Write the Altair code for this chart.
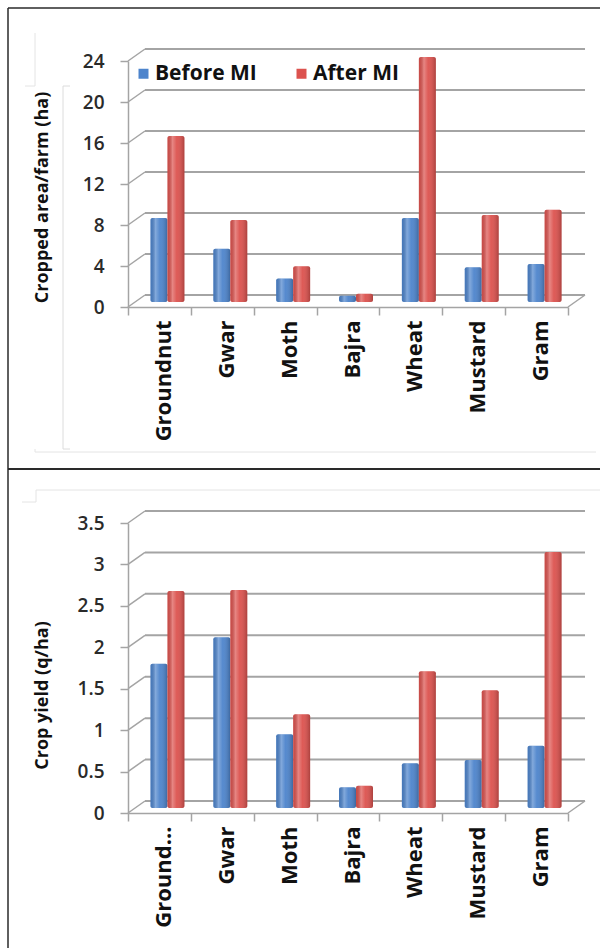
import altair as alt
import pandas as pd

# ---------------- data ----------------
crops = ["Groundnut", "Gwar", "Moth", "Bajra", "Wheat", "Mustard", "Gram"]
series = ["Before MI", "After MI"]
area_before = [8.2, 5.2, 2.3, 0.6, 8.2, 3.4, 3.7]
area_after = [16.2, 8.0, 3.5, 0.8, 23.9, 8.5, 9.0]
yield_before = [1.74, 2.06, 0.89, 0.25, 0.54, 0.58, 0.75]
yield_after = [2.62, 2.63, 1.13, 0.27, 1.65, 1.42, 3.09]
area_ticks = [0, 4, 8, 12, 16, 20, 24]
yield_ticks = [0, 0.5, 1, 1.5, 2, 2.5, 3, 3.5]
colors = ["#4d84cc", "#dc524e"]

# ---------------- style ----------------
W = 440
FONT = "Open Sans"
GRID = "#a4a4a4"
DX, DY = 17, -12   # depth offset of the back wall
BX, BY = 8, -5     # depth offset of the bars
BAR_W = 17

shade = alt.Gradient(
    gradient="linear", x1=0, x2=1, y1=0, y2=0,
    stops=[
        alt.GradientStop(offset=0, color="rgba(0,0,0,0.08)"),
        alt.GradientStop(offset=0.3, color="rgba(255,255,255,0.30)"),
        alt.GradientStop(offset=0.55, color="rgba(255,255,255,0.05)"),
        alt.GradientStop(offset=1, color="rgba(0,0,0,0.22)"),
    ],
)

dummy = pd.DataFrame({"k": [0]})


def line(x1, y1, x2, y2, color, width):
    return alt.Chart(dummy).mark_rule(color=color, strokeWidth=width).encode(
        x=alt.value(x1), x2=alt.value(x2), y=alt.value(y1), y2=alt.value(y2)
    )


def panel(before, after, ticks, ymax, H, title, title_y, xlabel_expr, frame):
    df = pd.DataFrame({
        "crop": crops * 2,
        "series": [series[0]] * len(crops) + [series[1]] * len(crops),
        "value": before + after,
    })
    tdf = pd.DataFrame({"value": ticks})
    zdf = pd.DataFrame({"value": [0]})

    yenc = alt.Y(
        "value:Q",
        scale=alt.Scale(domain=[0, ymax], nice=False, zero=True),
        stack=None,
        axis=alt.Axis(
            values=ticks, format=".1~f", grid=False,
            title=title, titleFont=FONT, titleFontSize=18, titleFontWeight="bold",
            titleColor="#111", titleX=-86, titleY=title_y, titleAngle=-90,
            titleBaseline="middle", titleAlign="center",
            labelFont=FONT, labelFontSize=19, labelFontWeight=600, labelColor="#2a2a2a",
            labelPadding=16,
            tickSize=8, tickColor=GRID, tickWidth=1.5, domainColor=GRID, domainWidth=1.5,
        ),
    )
    xenc = alt.X(
        "crop:N", sort=crops,
        scale=alt.Scale(paddingInner=0, paddingOuter=0),
        axis=alt.Axis(
            title=None, labelAngle=-90, labelFont=FONT, labelFontSize=22,
            labelFontWeight="bold", labelColor="#111", labelPadding=5, labelOffset=4,
            tickBand="extent", tickSize=8, tickColor=GRID, tickWidth=1.5,
            domainColor=GRID, domainWidth=1.5, labelExpr=xlabel_expr,
        ),
    )
    cenc = alt.Color(
        "series:N", scale=alt.Scale(domain=series, range=colors),
        legend=alt.Legend(
            orient="none", legendX=5, legendY=2, direction="horizontal", title=None,
            symbolType="square", symbolSize=100, symbolStrokeWidth=0,
            labelFont=FONT, labelFontSize=21, labelFontWeight="bold", labelColor="#111",
            columnPadding=34, labelOffset=1,
        ),
    )

    grid = alt.Chart(tdf).mark_rule(color=GRID, strokeWidth=2, yOffset=DY).encode(
        y=yenc, x=alt.value(DX), x2=alt.value(W + DX)
    )
    diag = alt.Chart(tdf).mark_rule(color=GRID, strokeWidth=1.5, y2Offset=DY).encode(
        y=yenc, y2=alt.Y2("value"), x=alt.value(0), x2=alt.value(DX)
    )
    floor = alt.Chart(zdf).mark_rule(color=GRID, strokeWidth=1.5, y2Offset=DY).encode(
        y=yenc, y2=alt.Y2("value"), x=alt.value(W), x2=alt.value(W + DX)
    )

    layers = [grid, diag, floor]
    offs = {series[0]: BX - BAR_W / 2, series[1]: BX + BAR_W / 2}
    for s in series:
        base = (
            alt.Chart(df)
            .transform_filter(alt.datum.series == s)
            .transform_calculate(zero="0")
        )
        layers.append(
            base.mark_bar(width=BAR_W, xOffset=offs[s], yOffset=BY, y2Offset=BY, cornerRadius=2)
            .encode(x=xenc, y=yenc, y2=alt.Y2("zero:Q"), color=cenc)
        )
        layers.append(
            base.mark_bar(width=BAR_W, xOffset=offs[s], yOffset=BY, y2Offset=BY, cornerRadius=2,
                          fill=shade)
            .encode(x=xenc, y=yenc, y2=alt.Y2("zero:Q"))
        )
    layers += frame
    return alt.layer(*layers).properties(width=W, height=H)


top_frame = [
    line(-93, 391, 468, 391, "#e4e4e4", 1),
    line(-93, -28, -93, 25, "#e4e4e4", 1),
    line(-103, 25, -93, 25, "#e4e4e4", 1),
    line(-65, 25, -65, 388, "#dcdcdc", 1),
    line(-65, 25, -58, 25, "#dcdcdc", 1),
    line(-65, 388, -58, 388, "#dcdcdc", 1),
    line(-93, 388, -93, 391, "#e4e4e4", 1),
    line(-120, -53, 472, -53, "#2a2a2a", 1.5),
    line(-120, -53, -120, 408, "#2a2a2a", 1.5),
    line(-120, 408, 472, 408, "#2a2a2a", 2),
]
bottom_frame = [
    line(-92, -33, 472, -33, "#e4e4e4", 1),
    line(-106, -21, -92, -21, "#e4e4e4", 1),
    line(-92, -33, -92, -21, "#e4e4e4", 1),
    line(-120, -54, -120, 425, "#2a2a2a", 1.5),
]

top = panel(area_before, area_after, area_ticks, 24, 246,
            "Cropped area/farm (ha)", 136, "datum.label", top_frame)
bottom = panel(yield_before, yield_after, yield_ticks, 3.5, 290,
               "Crop yield (q/ha)", 172,
               "datum.label == 'Groundnut' ? 'Ground...' : datum.label", bottom_frame)

chart = (
    alt.vconcat(top, bottom, spacing=216, bounds="flush")
    .properties(padding={"left": 7, "top": 7, "right": 0, "bottom": 0}, background="white")
    .configure_view(stroke=None)
)

chart.save("out.html", embed_options={"renderer": "svg", "actions": False})
